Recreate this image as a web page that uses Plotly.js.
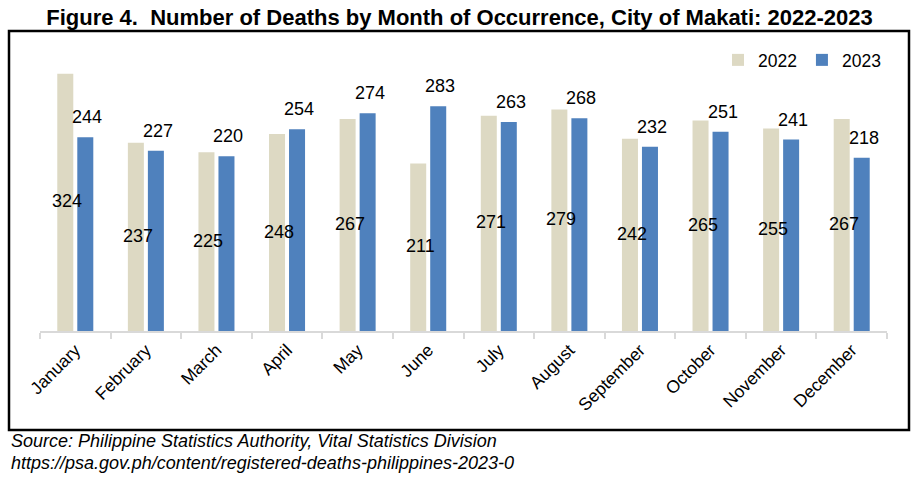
<!DOCTYPE html>
<html>
<head>
<meta charset="utf-8">
<script src="https://cdn.plot.ly/plotly-3.0.1.min.js"></script>
<style>
html,body{margin:0;padding:0;background:#fff;}
#chart{width:919px;height:482px;}
</style>
</head>
<body>
<div id="chart"></div>
<script>
const months = ["January","February","March","April","May","June","July","August","September","October","November","December"];
const deaths2022 = [324,237,225,248,267,211,271,279,242,265,255,267];
const deaths2023 = [244,227,220,254,274,283,263,268,232,251,241,218];
const seriesNames = ["2022","2023"];
const titleText = "Figure 4.  Number of Deaths by Month of Occurrence, City of Makati: 2022-2023";
const sourceLines = ["Source: Philippine Statistics Authority, Vital Statistics Division","https://psa.gov.ph/content/registered-deaths-philippines-2023-0"];

const FONT = "Liberation Sans, Arial, sans-serif";

const traces = [
  {
    type: "bar", name: seriesNames[0], x: months, y: deaths2022,
    marker: {color: "#DDD9C3"}, cliponaxis: false, hoverinfo: "x+y"
  },
  {
    type: "bar", name: seriesNames[1], x: months, y: deaths2023,
    marker: {color: "#4F81BD"}, cliponaxis: false, hoverinfo: "x+y"
  }
];

const L = 40, R = 887, T = 53, B = 331, W = 919, H = 482;
const pw = R - L, ph = B - T;
const px2x = v => (v - L) / pw;
const px2y = v => (B - v) / ph;

const labelFont = {family: FONT, size: 18, color: "#000"};
// 2022 labels: centred in the middle of the bar height
const labels2022 = months.map((m, i) => ({
  x: m, y: deaths2022[i] / 2, xref: "x", yref: "y",
  text: String(deaths2022[i]), showarrow: false,
  xanchor: "center", yanchor: "middle", xshift: -8, yshift: 1,
  font: labelFont
}));
// 2023 labels: above the bar end
const labels2023 = months.map((m, i) => ({
  x: m, y: deaths2023[i], xref: "x", yref: "y",
  text: String(deaths2023[i]), showarrow: false,
  xanchor: "center", yanchor: "middle", xshift: 12, yshift: 20,
  font: labelFont
}));
const sourceAnn = sourceLines.map((s, i) => ({
  text: "<i>" + s + "</i>", xref: "paper", yref: "paper",
  x: px2x(9), xanchor: "left", y: px2y(441 + i * 22), yanchor: "middle",
  showarrow: false, font: {family: FONT, size: 18, color: "#000"}
}));

const layout = {
  width: W, height: H,
  margin: {l: L, r: W - R, t: T, b: H - B, pad: 0},
  paper_bgcolor: "#fff", plot_bgcolor: "#fff",
  font: {family: FONT, color: "#000"},
  title: {
    text: "<b>" + titleText + "</b>",
    font: {family: FONT, size: 22, color: "#000"},
    x: 0.5, xref: "container", xanchor: "center",
    y: 1 - 17 / H, yref: "container", yanchor: "middle"
  },
  barmode: "group", bargap: 0.433, bargroupgap: 0.2,
  showlegend: true,
  legend: {
    orientation: "h", x: px2x(886), xanchor: "right", y: px2y(60), yanchor: "middle",
    font: {family: FONT, size: 17.5, color: "#000"}, bgcolor: "rgba(0,0,0,0)",
    traceorder: "normal"
  },
  xaxis: {
    type: "category", showline: true, linecolor: "#D9D9D9", linewidth: 2,
    ticks: "outside", tickson: "boundaries", ticklen: 6, tickcolor: "#D9D9D9", tickwidth: 2,
    tickangle: -45, tickfont: {family: FONT, size: 17.5, color: "#000"},
    showgrid: false, zeroline: false, fixedrange: true
  },
  yaxis: {
    range: [0, 350], visible: false, showgrid: false, zeroline: false, fixedrange: true
  },
  shapes: [{
    type: "rect", xref: "paper", yref: "paper",
    x0: px2x(9), x1: px2x(909), y0: px2y(430), y1: px2y(31),
    line: {color: "#000", width: 2.5}, fillcolor: "rgba(0,0,0,0)", layer: "above"
  }],
  annotations: labels2022.concat(labels2023, sourceAnn)
};

Plotly.newPlot("chart", traces, layout, {displayModeBar: false, staticPlot: true});
</script>
</body>
</html>
